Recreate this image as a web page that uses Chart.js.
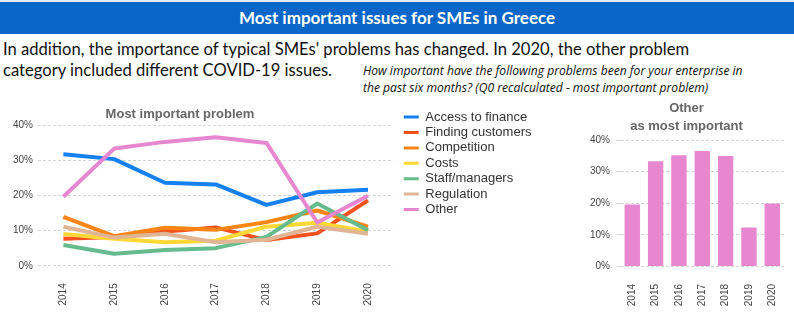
<!DOCTYPE html>
<html>
<head>
<meta charset="utf-8">
<script src="https://cdn.jsdelivr.net/npm/chart.js@4.4.1/dist/chart.umd.min.js"></script>
<style>
html,body{margin:0;padding:0;background:#fff;}
body{width:794px;height:330px;position:relative;overflow:hidden;font-family:Lato,"Open Sans",sans-serif;}
#topline{position:absolute;left:0;top:0;width:794px;height:2px;background:#e4ecf6;}
#band{position:absolute;left:0;top:2px;width:794px;height:32px;background:#0a66c8;color:#fff;font-weight:bold;font-size:17px;line-height:32px;text-align:center;white-space:nowrap;}
#intro{position:absolute;left:3px;top:39px;font-size:16.6px;line-height:21px;color:#111;white-space:nowrap;}
#note{position:absolute;left:363px;top:63px;font-family:"Open Sans",Lato,sans-serif;font-size:12.1px;line-height:16.5px;font-style:italic;color:#111;white-space:nowrap;}
#lineCanvas{position:absolute;left:0;top:100px;}
#barCanvas{position:absolute;left:582px;top:95px;}
</style>
</head>
<body>
<div id="topline"></div>
<div id="band">Most important issues for SMEs in Greece</div>
<div id="intro">In addition, the importance of typical SMEs' problems has changed. In 2020, the other problem<br>category included different COVID-19 issues.</div>
<div id="note">How important have the following problems been for your enterprise in<br>the past six months? (Q0 recalculated - most important problem)</div>
<canvas id="lineCanvas" width="560" height="230"></canvas>
<canvas id="barCanvas" width="212" height="235"></canvas>
<script>
// ---- data ----
const years = ['2014', '2015', '2016', '2017', '2018', '2019', '2020'];
const seriesNames = ['Access to finance', 'Finding customers', 'Competition', 'Costs', 'Staff/managers', 'Regulation', 'Other'];
const accessToFinance = [31.7, 30.3, 23.6, 23.1, 17.3, 20.9, 21.6];
const findingCustomers = [7.7, 8.2, 9.7, 10.9, 7.3, 9.2, 18.6];
const competition = [13.9, 8.4, 10.8, 10.2, 12.4, 15.7, 11.1];
const costs = [9.0, 7.7, 6.7, 7.1, 11.1, 12.2, 9.7];
const staffManagers = [5.9, 3.4, 4.5, 5.0, 8.2, 17.7, 10.1];
const regulation = [11.1, 8.0, 9.1, 6.7, 7.4, 11.1, 9.1];
const other = [19.6, 33.3, 35.2, 36.5, 34.9, 12.3, 19.9];
const yTickValues = [0, 10, 20, 30, 40];
const lineTitle = 'Most important problem';
const barTitle = ['Other', 'as most important'];

const seriesValues = [accessToFinance, findingCustomers, competition, costs, staffManagers, regulation, other];
const seriesColors = ['#1480f2', '#f4511e', '#fa8414', '#fdd835', '#66bb8c', '#e0b595', '#e687d0'];

Chart.defaults.font.family = "'Liberation Sans', Arial, sans-serif";

const pct = v => v + '%';
const gridColor = '#d4d4d4';

function yScale(width, pad, tick) {
  return {
    min: 0, max: 40,
    afterBuildTicks: s => { s.ticks = yTickValues.map(v => ({value: v})); },
    ticks: {callback: pct, padding: pad, color: '#444', font: {size: 10}},
    grid: {color: gridColor, lineWidth: 1, drawTicks: tick > 0, tickLength: tick},
    border: {display: false, dash: [3, 2]},
    afterFit: s => { s.width = width; }
  };
}
function xScale() {
  return {
    offset: true,
    grid: {display: false},
    border: {display: false},
    ticks: {maxRotation: 90, minRotation: 90, padding: 9.5, color: '#444', font: {size: 10}}
  };
}

// place the panel title over the left part and leave a small gap before the legend
const panelPlacement = {
  id: 'panelPlacement',
  afterLayout(chart) {
    const t = chart.titleBlock;
    if (t) { t.left = 0; t.right = 360; }
    const lg = chart.legend;
    if (lg) {
      const dx = chart.chartArea.right + 8 - lg.left;
      lg.left += dx; lg.right += dx;
      lg.top += 1.2; lg.bottom += 1.2;
    }
  }
};

new Chart(document.getElementById('lineCanvas'), {
  type: 'line',
  data: {
    labels: years,
    datasets: seriesNames.map((name, i) => ({
      label: name,
      data: seriesValues[i],
      borderColor: seriesColors[i],
      backgroundColor: seriesColors[i],
      borderWidth: 4,
      pointRadius: 0,
      pointHoverRadius: 0,
      tension: 0,
      fill: false,
      borderJoinStyle: 'round',
      order: seriesNames.length - 1 - i
    }))
  },
  options: {
    responsive: false,
    animation: false,
    devicePixelRatio: 1,
    layout: {padding: {top: 7, left: 0, right: 35.5, bottom: 15}},
    plugins: {
      title: {display: true, text: lineTitle, fullSize: false, color: '#666',
              font: {size: 13, weight: 'bold'}, padding: {top: 0, bottom: 2.4}},
      legend: {
        position: 'right', align: 'start',
        labels: {
          boxWidth: 15, boxHeight: 3, padding: 2.4, color: '#333',
          font: {size: 13},
          sort: (a, b) => a.datasetIndex - b.datasetIndex,
          generateLabels: chart => Chart.defaults.plugins.legend.labels.generateLabels(chart)
            .map(l => Object.assign({}, l, {lineWidth: 0, fillStyle: l.strokeStyle}))
        }
      },
      tooltip: {enabled: false}
    },
    scales: {
      x: xScale(),
      y: yScale(38, 5, 0)
    }
  },
  plugins: [panelPlacement]
});

new Chart(document.getElementById('barCanvas'), {
  type: 'bar',
  data: {
    labels: years,
    datasets: [{
      label: 'Other',
      data: other,
      backgroundColor: '#e687d0',
      borderWidth: 0,
      categoryPercentage: 1,
      barPercentage: 0.66
    }]
  },
  options: {
    responsive: false,
    animation: false,
    devicePixelRatio: 1,
    layout: {padding: {top: 0, left: 0, right: 3, bottom: 14.3}},
    plugins: {
      title: {display: true, text: barTitle, color: '#666',
              font: {size: 13, weight: 'bold', lineHeight: 1.45}, padding: {top: 3.6, bottom: 3.7}},
      legend: {display: false},
      tooltip: {enabled: false}
    },
    scales: {
      x: xScale(),
      y: yScale(38.6, 6.6, 4)
    }
  }
});
</script>
</body>
</html>
